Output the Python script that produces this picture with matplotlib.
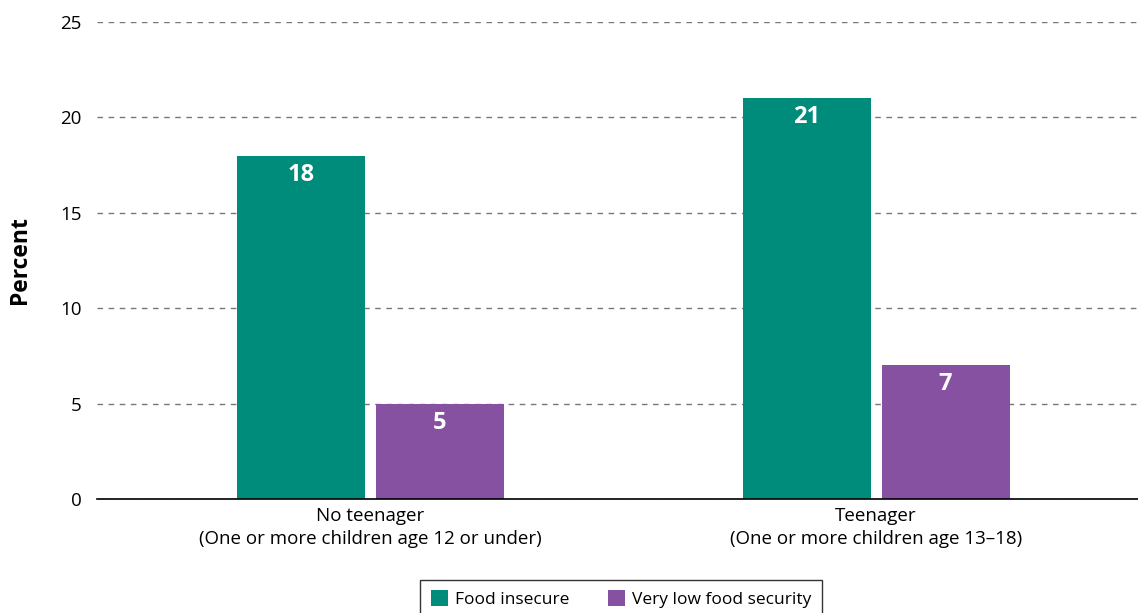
import matplotlib
matplotlib.use("Agg")
import matplotlib.pyplot as plt
import numpy as np

categories = ["No teenager\n(One or more children age 12 or under)",
              "Teenager\n(One or more children age 13\u201318)"]
food_insecure = [18, 21]
very_low = [5, 7]
series_names = ["Food insecure", "Very low food security"]
colors = ["#008C7A", "#8751A2"]

plt.rcParams['font.family'] = ['Open Sans', 'DejaVu Sans']

fig = plt.figure(figsize=(11.38, 6.13), dpi=100)
ax = fig.add_axes([97/1138, 1-499/613, 1-97/1138, (499-22)/613])

x = np.arange(len(categories))
w = 0.253
off = 0.1375
b1 = ax.bar(x - off, food_insecure, w, color=colors[0], label=series_names[0], zorder=3)
b2 = ax.bar(x + off, very_low, w, color=colors[1], label=series_names[1], zorder=3)

for bars, vals in ((b1, food_insecure), (b2, very_low)):
    for r, v in zip(bars, vals):
        ax.annotate(f"{v}", (r.get_x() + r.get_width()/2, v), xytext=(0, -5),
                    textcoords="offset points", ha="center", va="top",
                    color="white", fontsize=17, fontweight="bold", zorder=4)

ax.set_xlim(-0.541, 1.518)
ax.set_ylim(0, 25)
ax.set_yticks([0, 5, 10, 15, 20, 25])
ax.set_xticks(x)
ax.set_xticklabels(categories, fontsize=13.5, linespacing=1.3)
ax.tick_params(axis='y', length=0, labelsize=13.5, pad=11)
ax.tick_params(axis='x', length=0, pad=6)
ax.yaxis.grid(True, linestyle=(0, (4, 4)), color="#777777", linewidth=1, zorder=0)
for s in ["left", "right", "top"]:
    ax.spines[s].set_visible(False)
ax.spines["bottom"].set_color("black")
ax.spines["bottom"].set_linewidth(1.2)
ax.spines["bottom"].set_zorder(5)
ax.set_ylabel("Percent", fontsize=16.5, fontweight="bold", labelpad=20)

leg = fig.legend(handles=[b1, b2], labels=series_names, loc="upper center",
                 bbox_to_anchor=(621/1138, 1-580/613), ncol=2, frameon=True,
                 fontsize=12.5, handlelength=1.0, handleheight=1.0, handletextpad=0.4,
                 columnspacing=2.2, borderpad=0.6, borderaxespad=0,
                 fancybox=False, edgecolor="black")
leg.get_frame().set_linewidth(1.0)

fig.savefig("out.png", dpi=100)
